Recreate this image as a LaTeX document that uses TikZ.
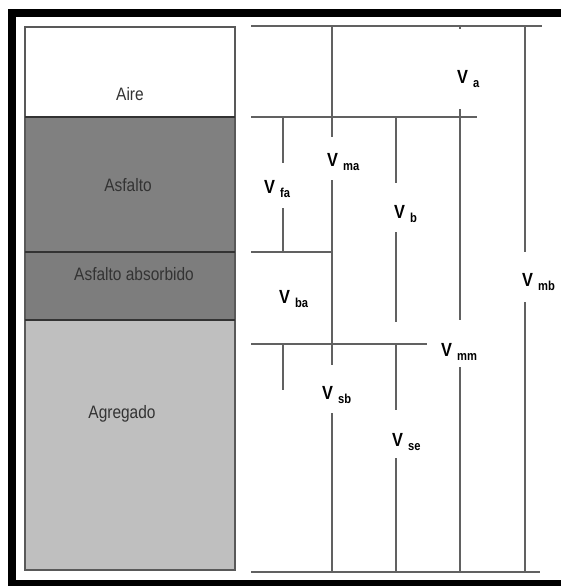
\documentclass[tikz,border=0pt]{standalone}
\usepackage{graphicx}
\usepackage{fontspec}
\setmainfont{Liberation Sans}
% narrow-set text, as in the volume diagram
\newcommand{\narrow}[1]{\scalebox{0.86}[1]{#1}}
\newcommand{\vol}[1]{\narrow{\fontsize{19}{19}\selectfont\bfseries V}\hspace{5pt}\raisebox{-4pt}{\narrow{\fontsize{13}{13}\selectfont\bfseries #1}}}
\begin{document}
\begin{tikzpicture}[x=1pt,y=-1pt,
  frame/.style={fill=black},
  layer/.style={draw=black!65,line width=1.8pt},
  sep/.style={draw=black!80,line width=1.8pt},
  dim/.style={draw=black!62,line width=2.2pt},
  phase/.style={text=black!80,font=\fontsize{18}{18}\selectfont,anchor=base,inner sep=0pt},
  vlabel/.style={text=black,anchor=base west,inner sep=0pt}]
\useasboundingbox (0,0) rectangle (561,586);
\fill[white] (0,0) rectangle (561,586);
% outer frame
\fill[frame] (8,9) rectangle (561,17);
\fill[frame] (8,9) rectangle (16,586);
\fill[frame] (8,580) rectangle (561,586);
% phase column
\fill[white] (25,27) rectangle (235,117);
\fill[black!50] (25,117) rectangle (235,252);
\fill[black!51] (25,252) rectangle (235,320);
\fill[black!25] (25,320) rectangle (235,570);
\draw[layer] (25,27) rectangle (235,570);
\draw[sep] (25,117) -- (235,117);
\draw[sep] (25,252) -- (235,252);
\draw[sep] (25,320) -- (235,320);
\node[phase] (aire) at (130,100) {\narrow{Aire}};
\node[phase] (asfalto) at (128,191) {\narrow{Asfalto}};
\node[phase] (absorbido) at (134,280) {\narrow{Asfalto absorbido}};
\node[phase] (agregado) at (122,418) {\narrow{Agregado}};
% horizontal reference levels
\draw[dim] (251,26) -- (542,26);
\draw[dim] (251,117) -- (477,117);
\draw[dim] (251,252) -- (332,252);
\draw[dim] (251,344) -- (427,344);
\draw[dim] (251,572) -- (540,572);
% vertical dimension lines
\draw[dim] (283,117) -- (283,163) (283,208) -- (283,252) (283,344) -- (283,390);
\draw[dim] (332,26) -- (332,137) (332,180) -- (332,365) (332,413) -- (332,572);
\draw[dim] (396,117) -- (396,183) (396,232) -- (396,322) (396,344) -- (396,410) (396,458) -- (396,572);
\draw[dim] (460,26) -- (460,29) (460,109) -- (460,320) (460,367) -- (460,572);
\draw[dim] (525,26) -- (525,252) (525,302) -- (525,572);
% volume labels
\node[vlabel] (va) at (457,83) {\vol{a}};
\node[vlabel] (vma) at (327,166) {\vol{ma}};
\node[vlabel] (vfa) at (264,193) {\vol{fa}};
\node[vlabel] (vb) at (394,218) {\vol{b}};
\node[vlabel] (vba) at (279,303) {\vol{ba}};
\node[vlabel] (vmm) at (441,356) {\vol{mm}};
\node[vlabel] (vmb) at (522,286) {\vol{mb}};
\node[vlabel] (vsb) at (322,399) {\vol{sb}};
\node[vlabel] (vse) at (392,446) {\vol{se}};
\end{tikzpicture}
\end{document}
